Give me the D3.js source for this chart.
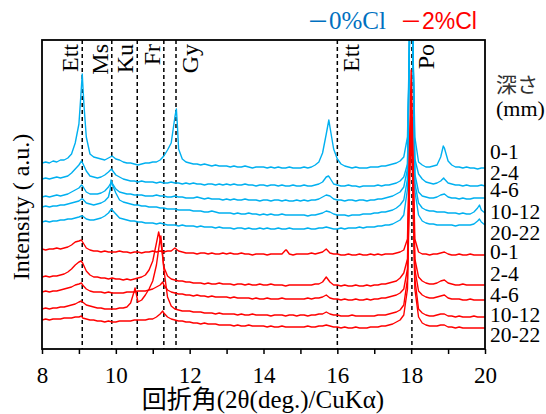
<!DOCTYPE html>
<html><head><meta charset="utf-8">
<script src="https://cdn.jsdelivr.net/npm/d3@7"></script>
<style>body{margin:0;background:#fff}</style>
</head><body>
<svg id="chart" width="546" height="414"></svg>
<script>
// XRD patterns of two mortar series at several depths (stacked, arbitrary units)
const depths = ["0-1", "2-4", "4-6", "10-12", "20-22"];
const seriesNames = ["0%Cl", "2%Cl"];
const xTicks = [8, 10, 12, 14, 16, 18, 20];
const phaseNames = ["Ett", "Ms", "Ku", "Fr", "Gy", "Ett", "Po"];
const phaseAngles = [9.09, 9.89, 10.58, 11.3, 11.63, 16.0, 18.02];
const phaseSide = ["left", "left", "left", "left", "right", "right", "right"];

// scans are sampled every 0.1° from 8° to 20°; peak arrays add [2θ, intensity] detail
const scanStart = 8, scanStep = 0.1;

// 0%Cl
const blue01Scan = [
  186,187,186,188,187,189,189,191,195,206,
  225,268,212,195,192,191,190,189,191,193,
  190,189,187,186,186,185,184,185,186,186,
  187,187,189,193,199,206,232,200,190,187,
  186,185,185,184,185,184,183,184,183,183,
  183,182,183,182,182,183,182,181,182,182,
  182,181,182,181,182,181,181,182,181,181,
  181,182,181,182,184,187,196,215,222,200,
  190,185,183,182,181,182,181,181,181,182,
  182,182,183,183,184,185,186,188,192,212,
  430,212,187,184,182,182,183,184,192,201,
  188,184,182,182,181,182,181,181,180,181,
  181];
const blue01Peaks = [[9.05,252],[9.09,275],[9.14,242],[11.64,240],[11.67,222],[15.77,229],[17.95,300],[18.05,300],[18.87,203]];

const blue24Scan = [
  170,171,170,171,172,171,172,173,176,180,
  184,186,178,173,172,171,172,174,177,179,
  174,172,170,169,168,168,167,168,167,167,
  167,166,167,166,166,167,166,166,165,166,
  165,166,165,165,164,165,165,164,165,164,
  165,164,165,164,164,165,164,164,163,164,
  164,163,164,164,163,164,163,163,164,163,
  163,164,163,163,164,165,167,172,171,165,
  164,163,163,164,163,163,162,163,163,163,
  163,164,163,164,164,165,166,168,172,185,
  420,190,175,170,167,166,165,166,168,170,
  166,165,164,164,163,164,163,163,163,164,
  163];
const blue24Peaks = [[9.07,188],[9.88,180],[15.76,173],[17.95,300],[18.05,300],[18.88,171]];

const blue46Scan = [
  152,153,152,153,154,153,154,155,157,159,
  161,163,157,155,155,155,156,158,162,166,
  160,157,156,155,155,154,154,154,153,153,
  153,154,153,153,152,152,153,152,152,151,
  151,151,152,151,150,151,150,150,150,149,
  150,149,150,149,149,150,149,149,149,148,
  149,149,148,149,149,148,149,148,148,149,
  148,149,148,149,149,150,152,154,153,150,
  149,149,148,149,149,148,149,149,148,149,
  149,150,150,151,152,153,155,157,162,180,
  420,175,157,153,152,151,151,152,154,155,
  152,151,151,150,151,150,150,151,151,151,
  151];
const blue46Peaks = [[9.07,164],[9.88,167],[17.95,300],[18.05,300]];

const blue1012Scan = [
  142,143,142,143,143,144,144,145,146,147,
  148,150,146,145,144,145,146,148,152,165,
  156,149,147,146,145,144,144,143,143,142,
  142,142,141,141,140,140,140,139,139,139,
  139,138,138,138,137,137,138,137,136,136,
  136,136,135,136,135,135,136,135,135,134,
  135,134,135,134,134,135,134,134,134,134,
  134,134,133,134,134,135,136,138,137,135,
  134,134,134,133,134,134,134,135,135,135,
  136,136,137,137,138,139,141,144,149,170,
  420,166,146,141,139,138,138,137,137,137,
  136,136,136,135,136,135,135,137,141,139,
  136];
const blue1012Peaks = [[9.07,150],[9.85,160],[9.87,169],[17.95,300],[18.05,300],[19.85,144]];

const blue2022Scan = [
  127,128,127,128,128,129,129,130,130,131,
  132,133,130,129,129,130,131,133,136,139,
  135,131,130,129,128,128,127,127,126,126,
  126,125,126,125,124,124,124,123,124,123,
  123,123,122,123,122,122,122,121,122,121,
  121,121,120,121,121,120,121,120,120,121,
  120,121,120,120,121,120,120,121,120,120,
  120,120,121,120,120,121,121,122,121,120,
  120,121,120,121,121,121,122,121,122,122,
  122,123,123,124,124,125,127,129,134,160,
  420,158,134,128,126,125,125,124,124,124,
  124,124,123,124,124,124,124,125,128,127,
  124];
const blue2022Peaks = [[9.07,133],[9.88,140],[17.95,300],[18.05,300],[19.85,130]];

// 2%Cl
const red01Scan = [
  100,99,100,100,101,100,101,102,104,107,
  108,107,101,99,98,98,97,98,97,97,
  97,98,97,97,96,97,97,96,97,97,
  98,97,98,97,98,98,101,98,97,96,
  96,96,95,96,96,95,96,95,95,96,
  95,96,95,95,96,95,95,94,95,95,
  95,94,95,95,95,95,99,95,94,95,
  95,95,95,96,95,96,97,100,96,95,
  95,94,94,95,94,94,95,94,94,95,
  94,95,94,95,95,95,96,97,99,110,
  279,110,97,95,95,94,95,95,96,97,
  95,94,94,95,94,94,95,94,94,94,
  94];
const red01Peaks = [[9.07,109],[14.62,99],[17.96,210],[18.04,210]];

const red24Scan = [
  72,73,72,73,73,74,75,77,80,84,
  87,86,78,74,72,72,71,71,70,71,
  70,70,69,70,69,70,71,72,74,79,
  88,106,110,82,73,70,69,68,68,67,
  67,66,66,66,65,66,65,65,66,65,
  65,65,64,65,65,64,65,64,64,65,
  64,64,65,64,64,64,63,64,64,64,
  64,64,64,64,65,65,67,72,67,64,
  64,63,64,63,63,64,63,63,64,63,
  64,64,65,65,66,67,68,71,76,90,
  250,90,72,68,66,65,65,66,68,69,
  66,65,64,64,65,64,64,64,64,64,
  64];
const red24Peaks = [[9.06,88],[11.16,117],[11.23,104],[17.96,200],[18.04,200]];

const red46Scan = [
  57,58,57,58,58,59,60,61,62,64,
  65,64,60,58,57,57,57,56,57,56,
  56,56,56,57,57,57,58,58,58,59,
  60,62,64,64,59,57,56,55,55,54,
  54,53,54,53,53,52,53,52,52,52,
  52,51,52,51,51,51,51,50,51,50,
  50,51,50,50,50,51,50,50,50,50,
  50,50,51,50,51,51,52,54,51,50,
  50,49,50,49,49,50,49,49,50,49,
  50,50,51,51,52,53,54,56,60,80,
  240,80,58,54,52,51,51,52,53,54,
  51,50,50,50,49,49,50,49,49,49,
  49];
const red46Peaks = [[9.07,66],[11.27,67],[17.96,190],[18.04,190]];

const red1012Scan = [
  40,41,40,41,41,42,42,43,44,45,
  47,47,44,43,42,41,41,40,40,40,
  40,41,41,42,46,58,47,49,54,60,
  68,84,110,80,52,43,40,39,38,38,
  38,37,37,37,36,36,36,35,36,35,
  35,35,35,34,35,34,34,35,34,34,
  34,34,33,34,34,34,33,34,34,33,
  34,34,33,34,34,35,35,37,35,34,
  34,33,33,33,34,33,33,33,33,33,
  33,34,34,34,35,36,37,39,44,70,
  230,70,40,36,34,33,33,34,35,35,
  33,33,32,33,32,32,32,33,32,32,
  32];
const red1012Peaks = [[9.07,48],[10.52,61],[10.56,54],[11.16,100],[11.22,113],[11.26,98],[17.96,180],[18.04,180]];

const red2022Scan = [
  29,30,29,30,30,30,31,31,31,32,
  32,31,30,29,29,28,28,27,28,27,
  27,28,28,28,28,29,29,29,29,30,
  30,32,35,36,32,30,29,28,28,27,
  27,26,26,25,26,25,25,25,24,24,
  24,24,23,24,23,23,24,23,23,23,
  23,22,23,22,22,23,22,22,22,22,
  22,22,23,22,22,23,23,24,23,22,
  22,21,22,21,21,22,21,21,21,22,
  22,22,23,23,24,25,27,29,34,60,
  220,60,32,26,24,23,23,23,24,24,
  22,22,21,22,21,21,21,21,21,21,
  21];
const red2022Peaks = [[9.07,33],[11.27,38],[17.96,170],[18.04,170]];

const blueScans = [blue01Scan, blue24Scan, blue46Scan, blue1012Scan, blue2022Scan];
const bluePeaks = [blue01Peaks, blue24Peaks, blue46Peaks, blue1012Peaks, blue2022Peaks];
const redScans = [red01Scan, red24Scan, red46Scan, red1012Scan, red2022Scan];
const redPeaks = [red01Peaks, red24Peaks, red46Peaks, red1012Peaks, red2022Peaks];

// merge the regular scan with the extra peak detail, ordered by angle
function pattern(scan, peaks) {
  const pts = scan.map((v, i) => [+(scanStart + i * scanStep).toFixed(2), v]).concat(peaks);
  return pts.sort((a, b) => a[0] - b[0]);
}

const width = 546, height = 414;
const margin = {left: 42, right: 61, top: 40, bottom: 65};
const plotW = width - margin.left - margin.right;
const plotH = height - margin.top - margin.bottom;

const blue = "#00B0F0", red = "#FF0000", legendBlue = "#0070C0";
const serif = "'Liberation Serif', 'Times New Roman', serif";
const sans = "'Liberation Sans', Arial, sans-serif";
const cjkSans = "'Noto Sans CJK JP', sans-serif";
const mixed = "'Liberation Serif', 'Noto Sans CJK JP', serif";

const svg = d3.select("#chart");
const x = d3.scaleLinear().domain([8, 20]).range([margin.left, margin.left + plotW]);
const y = d3.scaleLinear().domain([0, plotH]).range([margin.top + plotH, margin.top]);

svg.append("defs").append("clipPath").attr("id", "plotClip")
  .append("rect").attr("x", margin.left).attr("y", margin.top)
  .attr("width", plotW + 4).attr("height", plotH);

// phase reference lines
const phases = phaseNames.map((n, i) => ({name: n, angle: phaseAngles[i], side: phaseSide[i]}));
svg.append("g").selectAll("line").data(phases).join("line")
  .attr("x1", d => x(d.angle)).attr("x2", d => x(d.angle))
  .attr("y1", margin.top).attr("y2", margin.top + plotH)
  .attr("stroke", "#000").attr("stroke-width", 1.5).attr("stroke-dasharray", "4,3");

const line = d3.line().x(d => x(d[0])).y(d => y(d[1]));
const traces = svg.append("g").attr("clip-path", "url(#plotClip)");
traces.selectAll("path.b").data(blueScans.map((s, i) => pattern(s, bluePeaks[i]))).join("path")
  .attr("class", "b").attr("d", line).attr("fill", "none")
  .attr("stroke", blue).attr("stroke-width", 1.4).attr("stroke-linejoin", "round");
traces.selectAll("path.r").data(redScans.map((s, i) => pattern(s, redPeaks[i]))).join("path")
  .attr("class", "r").attr("d", line).attr("fill", "none")
  .attr("stroke", red).attr("stroke-width", 1.4).attr("stroke-linejoin", "round");

// frame
svg.append("rect").attr("x", margin.left).attr("y", margin.top)
  .attr("width", plotW).attr("height", plotH)
  .attr("fill", "none").attr("stroke", "#000").attr("stroke-width", 1.8);

// x axis: a tick every degree, labels on even angles
const xAxis = d3.axisBottom(x).tickValues(d3.range(8, 20.01, 1))
  .tickSize(5).tickFormat(d => xTicks.includes(d) ? d : "");
const gx = svg.append("g").attr("transform", `translate(0,${margin.top + plotH})`).call(xAxis);
gx.select(".domain").remove();
gx.selectAll(".tick line").attr("stroke", "#000").attr("stroke-width", 1.5);
gx.selectAll(".tick text").attr("dy", 0).attr("y", 34)
  .attr("font-family", serif).attr("font-size", 23).attr("fill", "#000");

// phase labels
svg.append("g").selectAll("text").data(phases).join("text")
  .attr("transform", d => `translate(${x(d.angle) + (d.side === "left" ? -4 : 22)},44) rotate(-90)`)
  .attr("text-anchor", "end")
  .attr("font-family", serif).attr("font-size", 24).attr("fill", "#000")
  .text(d => d.name);

// axis titles
svg.append("text").attr("transform", "translate(29,207) rotate(-90)")
  .attr("text-anchor", "middle").attr("font-family", serif).attr("font-size", 24)
  .text("Intensity ( a.u.)");
svg.append("text").attr("x", 263).attr("y", 408).attr("text-anchor", "middle")
  .attr("font-family", mixed).attr("font-size", 25).text("回折角(2θ(deg.)/CuKα)");

// legend
const lgB = svg.append("text").attr("x", 307).attr("y", 29).attr("fill", legendBlue);
lgB.append("tspan").attr("font-family", cjkSans).attr("font-size", 22).text("－");
lgB.append("tspan").attr("font-family", serif).attr("font-size", 25).text(seriesNames[0]);
const lgR = svg.append("text").attr("x", 400).attr("y", 29).attr("fill", red);
lgR.append("tspan").attr("font-family", cjkSans).attr("font-size", 22).text("－");
lgR.append("tspan").attr("font-family", sans).attr("font-size", 23).text(seriesNames[1]);

// depth labels
svg.append("text").attr("x", 496).attr("y", 92).attr("font-family", cjkSans)
  .attr("font-size", 21).attr("fill", "#333").text("深さ");
svg.append("text").attr("x", 496).attr("y", 116).attr("font-family", serif)
  .attr("font-size", 22).text("(mm)");
const labelBase = [159, 180, 197, 219, 240, 259, 281, 302, 322, 342];
const depthLabels = depths.concat(depths);
svg.append("g").selectAll("text").data(depthLabels).join("text")
  .attr("x", 490).attr("y", (d, i) => labelBase[i])
  .attr("font-family", serif).attr("font-size", 21.5).attr("fill", "#000")
  .text(d => d);
</script>
</body></html>
